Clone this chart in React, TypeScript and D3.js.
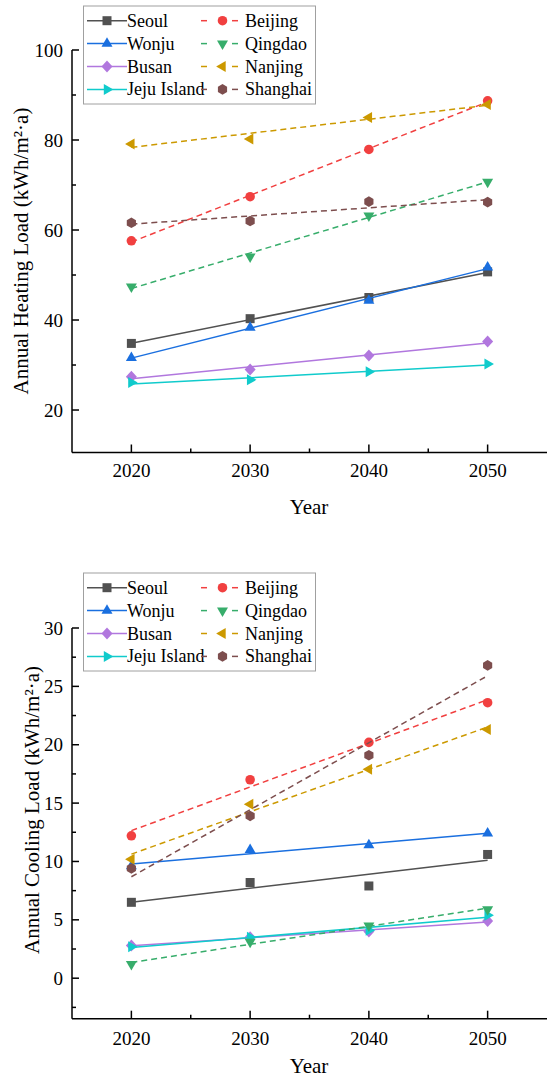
import React from "react";
import * as d3 from "d3";

const years = [2020, 2030, 2040, 2050];
const cities = ["Seoul", "Wonju", "Busan", "Jeju Island", "Beijing", "Qingdao", "Nanjing", "Shanghai"];

// annual heating load (kWh/m2·a)
const heatingSeoul = [34.8, 40.3, 45.0, 50.7];
const heatingWonju = [31.6, 38.3, 44.3, 51.7];
const heatingBusan = [27.4, 29.0, 32.1, 35.2];
const heatingJeju = [26.1, 26.7, 28.5, 30.2];
const heatingBeijing = [57.6, 67.4, 77.9, 88.7];
const heatingQingdao = [47.4, 54.1, 63.2, 70.7];
const heatingNanjing = [79.1, 80.2, 85.0, 87.9];
const heatingShanghai = [61.6, 62.0, 66.3, 66.2];

// annual cooling load (kWh/m2·a)
const coolingSeoul = [6.5, 8.2, 7.9, 10.6];
const coolingWonju = [9.6, 11.0, 11.4, 12.4];
const coolingBusan = [2.8, 3.5, 4.0, 4.9];
const coolingJeju = [2.7, 3.5, 4.1, 5.4];
const coolingBeijing = [12.2, 17.0, 20.2, 23.6];
const coolingQingdao = [1.2, 3.1, 4.5, 5.9];
const coolingNanjing = [10.2, 14.9, 17.9, 21.3];
const coolingShanghai = [9.4, 13.9, 19.1, 26.8];

const heating = [heatingSeoul, heatingWonju, heatingBusan, heatingJeju, heatingBeijing, heatingQingdao, heatingNanjing, heatingShanghai];
const cooling = [coolingSeoul, coolingWonju, coolingBusan, coolingJeju, coolingBeijing, coolingQingdao, coolingNanjing, coolingShanghai];

const styles = [
  { color: "#515151", marker: "square", dashed: false },
  { color: "#1A6FDF", marker: "up", dashed: false },
  { color: "#B177DE", marker: "diamond", dashed: false },
  { color: "#10CBCC", marker: "right", dashed: false },
  { color: "#F14040", marker: "circle", dashed: true },
  { color: "#37AD6B", marker: "down", dashed: true },
  { color: "#CC9900", marker: "left", dashed: true },
  { color: "#7D4E4E", marker: "hexagon", dashed: true },
];

const FONT = "Liberation Serif, Times New Roman, DejaVu Serif, serif";

function markerPath(kind: string) {
  const w = 11, h = 9.5;
  const poly = (pts: number[][]) => "M" + pts.map((p) => p.join(",")).join("L") + "Z";
  switch (kind) {
    case "square": return poly([[-4.5, -4.5], [4.5, -4.5], [4.5, 4.5], [-4.5, 4.5]]);
    case "circle": return d3.symbol(d3.symbolCircle, 72)()!;
    case "up": return poly([[0, -h * 2 / 3], [w / 2, h / 3], [-w / 2, h / 3]]);
    case "down": return poly([[0, h * 2 / 3], [w / 2, -h / 3], [-w / 2, -h / 3]]);
    case "left": return poly([[-h * 2 / 3, 0], [h / 3, -w / 2], [h / 3, w / 2]]);
    case "right": return poly([[h * 2 / 3, 0], [-h / 3, -w / 2], [-h / 3, w / 2]]);
    case "diamond": return poly([[0, -6], [5.5, 0], [0, 6], [-5.5, 0]]);
    default: {
      const r = 5.3;
      return poly(d3.range(6).map((i) => {
        const a = Math.PI / 6 + (i * Math.PI) / 3;
        return [r * Math.cos(a), r * Math.sin(a)];
      }));
    }
  }
}

// least squares line through the points
function linearFit(xs: number[], ys: number[]) {
  const mx = d3.mean(xs)!, my = d3.mean(ys)!;
  const b = d3.sum(xs, (x, i) => (x - mx) * (ys[i] - my)) / d3.sum(xs, (x) => (x - mx) ** 2);
  return (x: number) => my + b * (x - mx);
}

const x = d3.scaleLinear().domain([2015, 2055]).range([72, 547]);

function Panel({ data, yDomain, yRange, majors, minors, title, titleX, titleY, tickY, yearY, legendTop }: any) {
  const y = d3.scaleLinear().domain(yDomain).range(yRange);
  const axisY = yRange[0];
  const line = d3.line<number>().x((d) => x(d[0])).y((d) => y(d[1]));
  const rowH = 22.9;
  return (
    <g style={{ fontFamily: FONT }} fill="#000">
      {data.map((vals: number[], i: number) => {
        const f = linearFit(years, vals);
        const s = styles[i];
        return (
          <g key={i}>
            <path
              d={line([[2020, f(2020)], [2050, f(2050)]] as any)!}
              fill="none"
              stroke={s.color}
              strokeWidth={1.5}
              strokeDasharray={s.dashed ? "6 4" : undefined}
            />
            {vals.map((v, j) => (
              <path key={j} d={markerPath(s.marker)} transform={`translate(${x(years[j])},${y(v)})`} fill={s.color} />
            ))}
          </g>
        );
      })}

      {/* axes */}
      <line x1={72} x2={547} y1={axisY} y2={axisY} stroke="#000" strokeWidth={1.5} />
      <line x1={72} x2={72} y1={axisY} y2={yRange[1]} stroke="#000" strokeWidth={1.5} />
      {years.map((t) => (
        <g key={t}>
          <line x1={x(t)} x2={x(t)} y1={axisY} y2={axisY - 8} stroke="#000" strokeWidth={1.5} />
          <text x={x(t)} y={tickY} fontSize={19} textAnchor="middle" dominantBaseline="central">{t}</text>
        </g>
      ))}
      {[2025, 2035, 2045].map((t) => (
        <line key={t} x1={x(t)} x2={x(t)} y1={axisY} y2={axisY - 4} stroke="#000" strokeWidth={1.5} />
      ))}
      {majors.map((t: number) => (
        <g key={t}>
          <line x1={72} x2={79} y1={y(t)} y2={y(t)} stroke="#000" strokeWidth={1.5} />
          <text x={63} y={y(t)} fontSize={19} textAnchor="end" dominantBaseline="central">{t}</text>
        </g>
      ))}
      {minors.map((t: number) => (
        <line key={t} x1={72} x2={76} y1={y(t)} y2={y(t)} stroke="#000" strokeWidth={1.5} />
      ))}
      <text x={309} y={yearY} fontSize={21} textAnchor="middle" dominantBaseline="central">Year</text>
      <text
        transform={`translate(${titleX},${titleY}) rotate(-90)`}
        fontSize={21}
        textAnchor="middle"
        dominantBaseline="central"
      >
        {title}
      </text>

      {/* legend */}
      <rect x={83.5} y={legendTop} width={232} height={98} fill="#fff" stroke="#a0a0a0" strokeWidth={1} />
      {cities.map((c, i) => {
        const col = i < 4 ? 0 : 1;
        const ry = legendTop + 14.7 + (i % 4) * rowH;
        const s = styles[i];
        const mx = col === 0 ? 107 : 222.5;
        return (
          <g key={c}>
            {col === 0 ? (
              <line x1={87} x2={127} y1={ry} y2={ry} stroke={s.color} strokeWidth={1.5} />
            ) : (
              <g stroke={s.color} strokeWidth={1.5}>
                <line x1={201} x2={207} y1={ry} y2={ry} />
                <line x1={232} x2={238} y1={ry} y2={ry} />
              </g>
            )}
            <path d={markerPath(s.marker)} transform={`translate(${mx},${ry})`} fill={s.color} />
            <text x={col === 0 ? 127 : 245} y={ry} fontSize={18} dominantBaseline="central">{c}</text>
          </g>
        );
      })}
    </g>
  );
}

export default function App() {
  return (
    <svg width={547} height={1086} style={{ position: "absolute", left: 0, top: 0, background: "#fff" }}>
      <Panel
        data={heating}
        yDomain={[10.56, 100]}
        yRange={[452.5, 50]}
        majors={d3.range(20, 101, 20)}
        minors={d3.range(30, 100, 20)}
        title="Annual Heating Load (kWh/m²·a)"
        titleX={21}
        titleY={251}
        tickY={470}
        yearY={507}
        legendTop={6}
      />
      <Panel
        data={cooling}
        yDomain={[-3.47, 30]}
        yRange={[1018.7, 628]}
        majors={d3.range(0, 31, 5)}
        minors={d3.range(-2.5, 30, 5)}
        title="Annual Cooling Load (kWh/m²·a)"
        titleX={32}
        titleY={810}
        tickY={1038.5}
        yearY={1066}
        legendTop={573}
      />
    </svg>
  );
}
